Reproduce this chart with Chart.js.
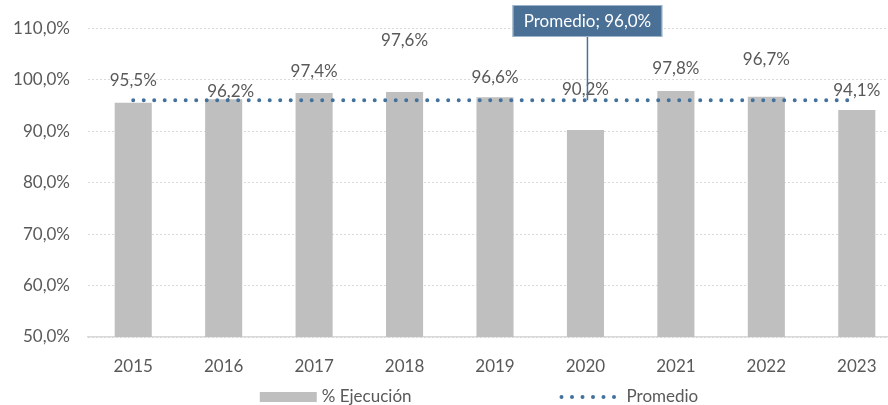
<!DOCTYPE html>
<html>
<head>
<meta charset="utf-8">
<script src="https://cdn.jsdelivr.net/npm/chart.js@4.4.1/dist/chart.umd.min.js"></script>
<style>
    html, body { margin: 0; padding: 0; background: #fff; overflow: hidden; }
    #wrap { position: relative; width: 905px; height: 405px; }
</style>
</head>
<body>
<div id="wrap"><canvas id="ejecucionChart"></canvas></div>
<script>
var years = ['2015', '2016', '2017', '2018', '2019', '2020', '2021', '2022', '2023'];
var ejecucion = [95.5, 96.2, 97.4, 97.6, 96.6, 90.2, 97.8, 96.7, 94.1];
var promedio = [96.0, 96.0, 96.0, 96.0, 96.0, 96.0, 96.0, 96.0, 96.0];
var yMin = 50, yMax = 110, yStep = 10;

var GREY_TEXT = '#595959';
var BAR_GREY = '#bfbfbf';
var LINE_BLUE = '#41719c';
var CALLOUT_BLUE = '#4a7096';

function pct(v) {
    return v.toFixed(1).replace('.', ',') + '%';
}

// value labels above the bars (offsets mimic the hand-placed Excel labels)
var barLabels = {
    id: 'barLabels',
    afterDatasetsDraw: function (chart, args, opts) {
        var ctx = chart.ctx;
        var meta = chart.getDatasetMeta(0);
        ctx.save();
        ctx.font = '17px Lato';
        ctx.fillStyle = GREY_TEXT;
        ctx.textAlign = 'center';
        ctx.textBaseline = 'middle';
        meta.data.forEach(function (bar, i) {
            var off = opts.offsets[i];
            ctx.fillText(pct(ejecucion[i]), bar.x + off[0], bar.y - off[1]);
        });
        ctx.restore();
    }
};

// "Promedio; 96,0%" callout with leader line
var callout = {
    id: 'callout',
    afterDraw: function (chart, args, opts) {
        var ctx = chart.ctx;
        var i = opts.index;
        var x = chart.scales.x.getPixelForValue(i) + 2;
        var y = chart.scales.y.getPixelForValue(promedio[i]);
        var text = 'Promedio; ' + pct(promedio[i]);
        ctx.save();
        ctx.font = '17px Lato';
        var w = ctx.measureText(text).width + 22;
        var h = 32, top = 5;
        var left = x - w / 2;
        ctx.strokeStyle = CALLOUT_BLUE;
        ctx.lineWidth = 1.5;
        ctx.beginPath();
        ctx.moveTo(x, top + h);
        ctx.lineTo(x, y);
        ctx.stroke();
        ctx.fillStyle = CALLOUT_BLUE;
        ctx.fillRect(left, top, w, h);
        ctx.strokeStyle = '#9db3c8';
        ctx.lineWidth = 1;
        ctx.strokeRect(left + 0.5, top + 0.5, w - 1, h - 1);
        ctx.fillStyle = '#ffffff';
        ctx.textAlign = 'center';
        ctx.textBaseline = 'middle';
        ctx.fillText(text, x, top + h / 2 + 1);
        ctx.restore();
    }
};

// bottom legend drawn by hand to get the Excel look
var bottomLegend = {
    id: 'bottomLegend',
    afterDraw: function (chart) {
        var ctx = chart.ctx;
        var y = 397;
        ctx.save();
        ctx.font = '17px Lato';
        ctx.textBaseline = 'middle';
        var t1 = '% Ejecución', t2 = 'Promedio';
        var w1 = 57 + 5 + ctx.measureText(t1).width;
        var w2 = 57 + 10 + ctx.measureText(t2).width;
        var gap = 148;
        var total = w1 + gap + w2;
        var cx = (chart.chartArea.left + chart.chartArea.right) / 2 - 16;
        var x = cx - total / 2;

        ctx.fillStyle = BAR_GREY;
        ctx.fillRect(x, y - 5, 57, 10);
        ctx.fillStyle = GREY_TEXT;
        ctx.fillText(t1, x + 62, y);

        x += w1 + gap;
        ctx.fillStyle = LINE_BLUE;
        for (var k = 0; k < 6; k++) {
            ctx.beginPath();
            ctx.arc(x + 2 + k * 10.5, y, 2, 0, Math.PI * 2);
            ctx.fill();
        }
        ctx.fillStyle = GREY_TEXT;
        ctx.fillText(t2, x + 67, y);
        ctx.restore();
    }
};

Chart.defaults.font.family = 'Lato';
Chart.defaults.font.size = 17;
Chart.defaults.color = GREY_TEXT;

var ctx = document.getElementById('ejecucionChart').getContext('2d');
var chart = new Chart(ctx, {
    type: 'bar',
    data: {
        labels: years,
        datasets: [
            {
                label: '% Ejecución',
                data: ejecucion,
                backgroundColor: BAR_GREY,
                categoryPercentage: 1,
                barPercentage: 0.41,
                order: 1
            },
            {
                type: 'line',
                label: 'Promedio',
                data: promedio,
                borderColor: LINE_BLUE,
                borderWidth: 4,
                borderDash: [0, 10.5],
                borderCapStyle: 'round',
                pointRadius: 0,
                fill: false,
                order: 0
            }
        ]
    },
    options: {
        responsive: true,
        maintainAspectRatio: false,
        animation: false,
        layout: { padding: { top: 27, left: 10, right: 3, bottom: 20 } },
        plugins: {
            legend: { display: false },
            tooltip: { enabled: false },
            barLabels: { offsets: [[0, 22], [7, 8], [0, 22], [0, 52], [0, 20], [0, 41], [0, 22], [0, 37], [0, 20]] },
            callout: { index: 5 }
        },
        scales: {
            x: {
                grid: { display: false },
                border: { display: true, color: '#d9d9d9', width: 1.5 },
                ticks: { padding: 11, maxRotation: 0 },
                afterFit: function (scale) { scale.height = 48; }
            },
            y: {
                min: yMin,
                max: yMax,
                grid: { color: '#d9d9d9', lineWidth: 1, drawTicks: false },
                border: { display: false, dash: [2, 2] },
                ticks: {
                    stepSize: yStep,
                    padding: 18,
                    callback: function (v) { return pct(v); }
                },
                afterFit: function (scale) { scale.width = 78; }
            }
        }
    },
    plugins: [barLabels, callout, bottomLegend]
});
</script>
</body>
</html>
